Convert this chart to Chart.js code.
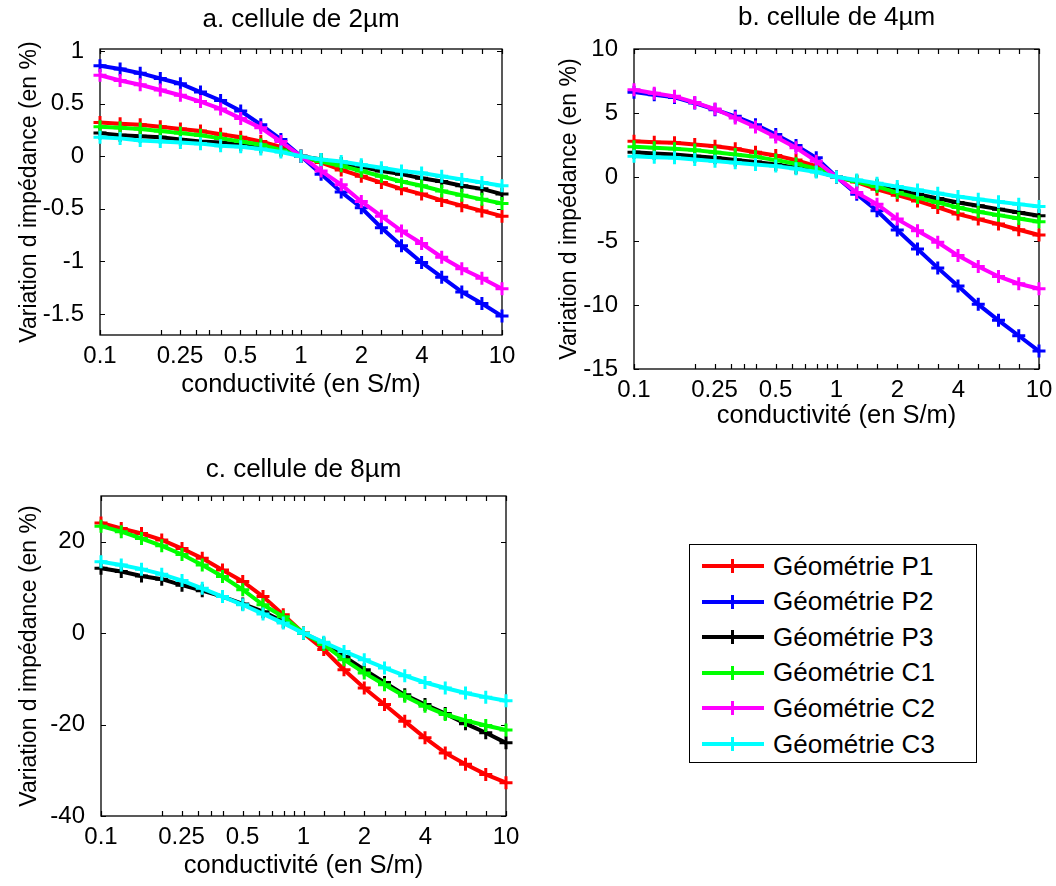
<!DOCTYPE html>
<html>
<head>
<meta charset="utf-8">
<script src="https://cdn.jsdelivr.net/npm/chart.js@4.4.1/dist/chart.umd.min.js"></script>
<style>
html,body{margin:0;padding:0;background:#fff;}
#wrap{position:relative;width:1056px;height:886px;overflow:hidden;background:#fff;}
canvas.panel{position:absolute;left:0;top:0;}
#legend{position:absolute;left:689px;top:544px;width:288px;height:219px;border:1px solid #000;box-sizing:border-box;
  font-family:"Liberation Sans",Arial,sans-serif;font-size:26px;color:#000;background:#fff;}
.row{position:absolute;left:0;height:30px;display:flex;align-items:center;white-space:nowrap;}
.sw{position:relative;width:62px;height:4px;margin-left:12px;margin-right:9px;}
.sw .v{position:absolute;left:29px;top:-5px;width:3px;height:14px;}
</style>
</head>
<body>
<div id="wrap">
  <canvas id="cA" class="panel" width="1056" height="886"></canvas>
  <canvas id="cB" class="panel" width="1056" height="886"></canvas>
  <canvas id="cC" class="panel" width="1056" height="886"></canvas>
  <div id="legend"></div>
</div>
<script>
// ---------- DATA ----------
const conductivity = [0.1, 0.1259, 0.1585, 0.1995, 0.2512, 0.3162, 0.3981, 0.5012, 0.631, 0.7943, 1,
                      1.2589, 1.5849, 1.9953, 2.5119, 3.1623, 3.9811, 5.0119, 6.3096, 7.9433, 10];
const xTickValues = [0.1, 0.25, 0.5, 1, 2, 4, 10];
const xTickLabels = ['0.1', '0.25', '0.5', '1', '2', '4', '10'];
const xMinorTicks = [0.2, 0.3, 0.35, 0.4, 0.6, 0.7, 0.8, 0.9, 1.2589, 1.5849, 2.5119, 3.1623, 5.0119, 6.3096, 7.9433];

const seriesNames = ['Géométrie P1', 'Géométrie P2', 'Géométrie P3', 'Géométrie C1', 'Géométrie C2', 'Géométrie C3'];
const panelTitles = ['a. cellule de 2µm', 'b. cellule de 4µm', 'c. cellule de 8µm'];
const xAxisTitle = 'conductivité (en S/m)';
const yAxisTitle = 'Variation d impédance (en %)';

const yTicksA = [-1.5, -1, -0.5, 0, 0.5, 1];
const yTicksB = [-15, -10, -5, 0, 5, 10];
const yTicksC = [-40, -20, 0, 20];
const yRangeA = [-1.7, 1.02];
const yRangeB = [-15, 10];
const yRangeC = [-40, 30];

// panel a (2 µm)
const a_P1 = [0.32, 0.31, 0.30, 0.28, 0.26, 0.24, 0.21, 0.18, 0.14, 0.09, 0, -0.06, -0.13, -0.19, -0.25, -0.31, -0.36, -0.42, -0.47, -0.52, -0.57];
const a_P2 = [0.86, 0.83, 0.79, 0.74, 0.69, 0.61, 0.53, 0.43, 0.30, 0.16, 0, -0.17, -0.34, -0.49, -0.68, -0.85, -1.01, -1.15, -1.29, -1.40, -1.52];
const a_P3 = [0.22, 0.20, 0.19, 0.18, 0.16, 0.14, 0.13, 0.11, 0.09, 0.06, 0, -0.03, -0.07, -0.10, -0.14, -0.17, -0.21, -0.24, -0.28, -0.31, -0.36];
const a_C1 = [0.28, 0.27, 0.26, 0.24, 0.22, 0.20, 0.17, 0.14, 0.11, 0.06, 0, -0.05, -0.09, -0.14, -0.19, -0.24, -0.28, -0.33, -0.37, -0.41, -0.45];
const a_C2 = [0.77, 0.72, 0.68, 0.63, 0.58, 0.52, 0.45, 0.36, 0.27, 0.14, 0, -0.14, -0.27, -0.43, -0.57, -0.71, -0.83, -0.96, -1.07, -1.16, -1.26];
const a_C3 = [0.18, 0.17, 0.15, 0.14, 0.13, 0.12, 0.10, 0.09, 0.07, 0.04, 0, -0.03, -0.05, -0.08, -0.11, -0.14, -0.16, -0.19, -0.22, -0.25, -0.28];

// panel b (4 µm)
const b_P1 = [2.80, 2.72, 2.67, 2.54, 2.41, 2.20, 1.94, 1.68, 1.32, 0.85, 0, -0.40, -0.96, -1.42, -1.87, -2.38, -2.90, -3.29, -3.68, -4.12, -4.53];
const b_P2 = [6.63, 6.42, 6.22, 5.78, 5.26, 4.74, 4.09, 3.32, 2.46, 1.50, 0, -1.35, -2.64, -4.15, -5.62, -7.10, -8.52, -9.95, -11.2, -12.4, -13.6];
const b_P3 = [1.94, 1.84, 1.76, 1.63, 1.50, 1.32, 1.17, 0.98, 0.73, 0.47, 0, -0.31, -0.65, -1.01, -1.35, -1.68, -1.99, -2.25, -2.51, -2.77, -3.03];
const b_C1 = [2.36, 2.28, 2.20, 2.10, 1.94, 1.76, 1.58, 1.32, 1.04, 0.65, 0, -0.35, -0.75, -1.22, -1.61, -1.99, -2.38, -2.72, -2.98, -3.24, -3.50];
const b_C2 = [6.81, 6.55, 6.30, 5.83, 5.31, 4.61, 3.91, 3.13, 2.28, 1.24, 0, -1.22, -2.12, -3.29, -4.20, -5.10, -6.14, -6.99, -7.77, -8.34, -8.73];
const b_C3 = [1.63, 1.55, 1.50, 1.37, 1.24, 1.11, 0.98, 0.85, 0.65, 0.39, 0, -0.23, -0.49, -0.75, -1.01, -1.27, -1.53, -1.74, -1.94, -2.12, -2.31];

// panel c (8 µm) : P2 and C2 not plotted
const c_P1 = [24.1, 22.9, 21.8, 20.4, 18.5, 16.4, 13.8, 11.3, 8.0, 4.0, 0, -3.6, -8.0, -12.0, -15.6, -19.3, -22.9, -26.2, -28.7, -30.9, -32.7];
const c_P2 = null;
const c_P3 = [14.2, 13.5, 12.5, 11.8, 10.5, 9.3, 8.0, 6.4, 4.7, 2.5, 0, -2.2, -5.1, -8.0, -10.8, -13.5, -15.6, -17.6, -19.8, -21.8, -24.0];
const c_C1 = [23.4, 22.2, 20.7, 19.1, 17.2, 14.9, 12.4, 9.5, 6.2, 3.6, 0, -2.5, -5.8, -8.7, -11.3, -13.8, -16.0, -17.8, -19.1, -20.2, -21.2];
const c_C2 = null;
const c_C3 = [15.6, 14.9, 14.0, 12.9, 11.5, 9.8, 8.0, 6.2, 4.2, 2.2, 0, -2.0, -4.0, -5.8, -7.6, -9.3, -10.8, -12.0, -13.1, -14.0, -14.8];

// ---------- STYLE / LAYOUT ----------
const seriesColors = ['#ff0000', '#0000ff', '#000000', '#00ff00', '#ff00ff', '#00ffff'];
const FONT = '"Liberation Sans", Arial, Helvetica, sans-serif';
const TICK_SIZE = 24, TITLE_SIZE = 26, XT_SIZE = 25.5, YT_SIZE = 23;
const W = 1056, H = 886;

const layouts = [
  {plot: [100, 49, 502, 335], titleY: 20, yTitleX: 30, xTitleY: 385, tickGap: 8},
  {plot: [634, 49, 1039, 369], titleY: 18, yTitleX: 570, xTitleY: 416, tickGap: 8},
  {plot: [101, 496, 506, 816], titleY: 470, yTitleX: 30, xTitleY: 866, tickGap: 8}
];

Chart.defaults.font.family = FONT;
Chart.defaults.color = '#000';

const matlabBox = {
  id: 'matlabBox',
  beforeDatasetsDraw(chart) {
    const {ctx, chartArea: a, scales: {x, y}} = chart;
    const L = 5;
    ctx.save();
    ctx.strokeStyle = '#000';
    ctx.lineWidth = 1.3;
    ctx.strokeRect(a.left, a.top, a.right - a.left, a.bottom - a.top);
    ctx.lineWidth = 1.2;
    ctx.beginPath();
    y.ticks.forEach(t => {
      const py = Math.round(y.getPixelForValue(t.value)) + 0.5;
      ctx.moveTo(a.left, py); ctx.lineTo(a.left + L, py);
      ctx.moveTo(a.right, py); ctx.lineTo(a.right - L, py);
    });
    xTickValues.concat(xMinorTicks).forEach(v => {
      const px = Math.round(x.getPixelForValue(v)) + 0.5;
      ctx.moveTo(px, a.bottom); ctx.lineTo(px, a.bottom - L);
      ctx.moveTo(px, a.top); ctx.lineTo(px, a.top + L);
    });
    ctx.stroke();
    ctx.restore();
  }
};

function makeChart(id, idx, seriesData, yRange, yTicks) {
  const lay = layouts[idx];
  const [Lp, Tp, Rp, Bp] = lay.plot;
  const tLH = TITLE_SIZE * 1.2, xLH = XT_SIZE * 1.2, yLH = YT_SIZE * 1.2;
  const yScaleLeft = lay.yTitleX - yLH / 2;
  const yW = Lp - yScaleLeft;
  const xHt = lay.xTitleY + xLH / 2 - Bp;
  const layoutTop = lay.titleY - tLH / 2;
  const tickLH = TICK_SIZE * 1.2;

  const datasets = [];
  seriesData.forEach((vals, i) => {
    if (!vals) return;
    datasets.push({
      label: seriesNames[i],
      data: conductivity.map((c, k) => ({x: c, y: vals[k]})),
      xAxisID: 'x',
      yAxisID: 'y',
      borderColor: seriesColors[i],
      backgroundColor: seriesColors[i],
      pointBorderColor: seriesColors[i],
      borderWidth: 4,
      pointStyle: 'cross',
      pointRadius: 6.5,
      pointBorderWidth: 3,
      pointHoverRadius: 6.5,
      tension: 0,
      fill: false,
      clip: false,
      order: 5 - i
    });
  });

  return new Chart(document.getElementById(id), {
    type: 'line',
    data: {datasets},
    plugins: [matlabBox],
    options: {
      responsive: false,
      animation: false,
      devicePixelRatio: 1,
      events: [],
      layout: {padding: {left: yScaleLeft, top: layoutTop, right: W - Rp, bottom: H - Bp - xHt}},
      plugins: {
        legend: {display: false},
        tooltip: {enabled: false},
        title: {display: false}
      },
      scales: {
        x: {
          type: 'logarithmic', position: 'bottom', min: 0.1, max: 10,
          afterBuildTicks: s => { s.ticks = xTickValues.map(v => ({value: v})); },
          afterFit: s => { s.height = xHt; },
          ticks: {
            autoSkip: false, maxRotation: 0, minRotation: 0, padding: 0,
            font: {size: TICK_SIZE, family: FONT, lineHeight: 1.2}, color: '#000',
            callback: (v, i) => xTickLabels[i]
          },
          grid: {display: true, drawOnChartArea: false, drawTicks: true, tickLength: 21.5 - tickLH / 2, color: 'rgba(0,0,0,0)'},
          border: {display: false},
          title: {display: true, text: xAxisTitle, color: '#000',
                  font: {size: XT_SIZE, family: FONT, lineHeight: 1.2}, padding: {top: 0, bottom: 0}}
        },
        y: {
          type: 'linear', position: 'left', min: yRange[0], max: yRange[1],
          afterBuildTicks: s => { s.ticks = yTicks.map(v => ({value: v})); },
          afterFit: s => { s.width = yW; },
          ticks: {
            padding: lay.tickGap, font: {size: TICK_SIZE, family: FONT, lineHeight: 1.2}, color: '#000',
            callback: v => String(v)
          },
          grid: {display: false},
          border: {display: false},
          title: {display: true, text: yAxisTitle, color: '#000',
                  font: {size: YT_SIZE, family: FONT, lineHeight: 1.2}, padding: {top: 0, bottom: 0}}
        },
        xTop: {
          type: 'linear', position: 'top', min: 0, max: 1,
          afterFit: s => { s.height = Tp - layoutTop; },
          ticks: {display: false},
          grid: {display: false},
          border: {display: false},
          title: {display: true, text: panelTitles[idx], color: '#000',
                  font: {size: TITLE_SIZE, family: FONT, lineHeight: 1.2}, padding: {top: 0, bottom: 0}}
        }
      }
    }
  });
}

makeChart('cA', 0, [a_P1, a_P2, a_P3, a_C1, a_C2, a_C3], yRangeA, yTicksA);
makeChart('cB', 1, [b_P1, b_P2, b_P3, b_C1, b_C2, b_C3], yRangeB, yTicksB);
makeChart('cC', 2, [c_P1, c_P2, c_P3, c_C1, c_C2, c_C3], yRangeC, yTicksC);

// ---------- LEGEND ----------
const legend = document.getElementById('legend');
seriesNames.forEach((name, i) => {
  const row = document.createElement('div');
  row.className = 'row';
  row.style.top = (21 - 15 + i * 35.6) + 'px';
  const sw = document.createElement('div');
  sw.className = 'sw';
  sw.style.background = seriesColors[i];
  const v = document.createElement('div');
  v.className = 'v';
  v.style.background = seriesColors[i];
  sw.appendChild(v);
  const txt = document.createElement('span');
  txt.textContent = name;
  row.appendChild(sw);
  row.appendChild(txt);
  legend.appendChild(row);
});
</script>
</body>
</html>
